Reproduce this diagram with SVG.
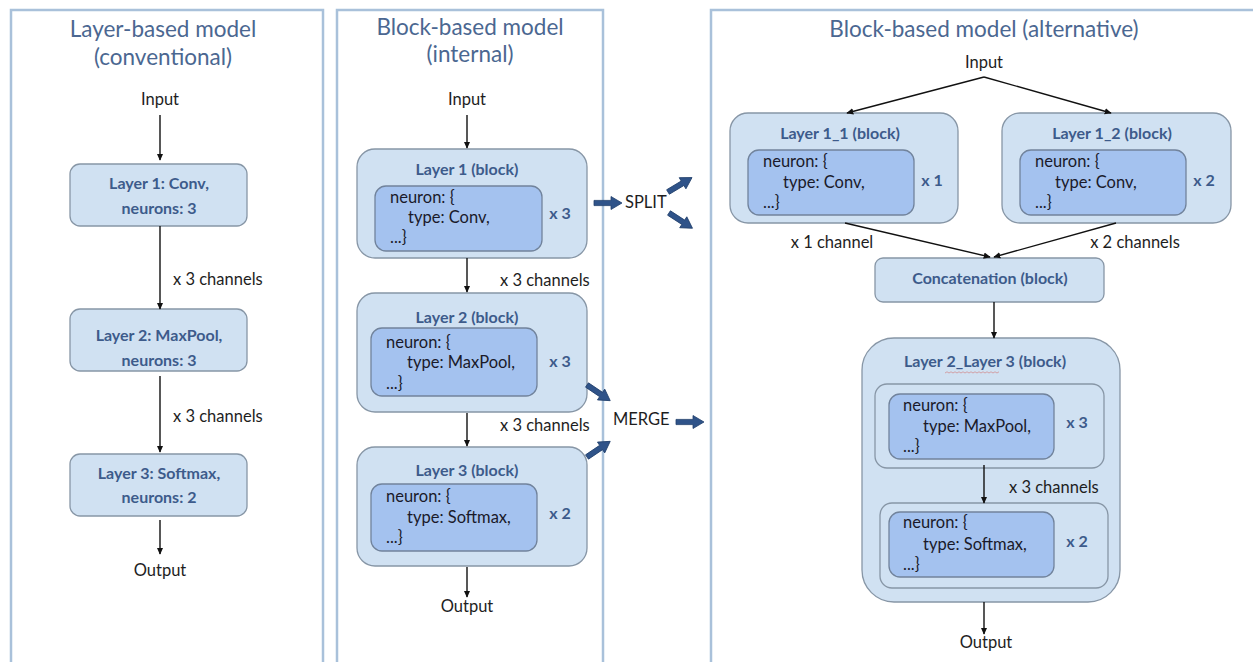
<svg xmlns="http://www.w3.org/2000/svg" width="1253" height="662" viewBox="0 0 1253 662">
  <style>
    text { font-family: Lato, "Open Sans", "Liberation Sans", sans-serif; }
    .panel { fill: #ffffff; stroke: #a9c1da; stroke-width: 2.5; }
    .title { font-size: 22.5px; fill: #4b6791; text-anchor: middle; }
    .lbl { font-size: 16.5px; fill: #1e1e1e; }
    .mid { text-anchor: middle; }
    .head { font-size: 16px; font-weight: bold; fill: #3d5b8b; text-anchor: middle; }
    .mult { font-size: 16px; font-weight: bold; fill: #3d5b8b; text-anchor: middle; }
    .code { font-size: 16.5px; fill: #1a1a2a; }
    .box { fill: #d0e1f2; stroke: #8796a6; stroke-width: 1.3; }
    .inner { fill: #a4c2ef; stroke: #71839c; stroke-width: 1.3; }
    .wire { fill: none; stroke: #111111; stroke-width: 1.4; marker-end: url(#tip); }
    .fat { fill: #2f5389; stroke: #22406c; stroke-width: 0.8; }
  </style>
  <defs>
    <marker id="tip" viewBox="0 0 10 10" refX="9" refY="5" markerWidth="7" markerHeight="7" orient="auto" markerUnits="userSpaceOnUse">
      <path d="M0,0.5 L10,5 L0,9.5 Z" fill="#111111"/>
    </marker>
    <!-- block arrow pointing along +x, 28 long -->
    <path id="fatArrow" class="fat" d="M0,-2.6 L17,-2.6 L17,-6.5 L28,0 L17,6.5 L17,2.6 L0,2.6 Z"/>
  </defs>

  <rect width="1253" height="662" fill="#ffffff"/>

  <!-- panels -->
  <g id="panel-layer">
    <rect class="panel" x="11" y="10" width="312" height="700"/>
    <text class="title" x="163" y="37">Layer-based model</text>
    <text class="title" x="163" y="65">(conventional)</text>
  </g>
  <g id="panel-internal">
    <rect class="panel" x="337" y="10" width="266" height="700"/>
    <text class="title" x="470" y="35">Block-based model</text>
    <text class="title" x="470" y="62">(internal)</text>
  </g>
  <g id="panel-alt">
    <rect class="panel" x="711" y="10" width="560" height="700"/>
    <text class="title" x="984" y="37">Block-based model (alternative)</text>
  </g>

  <!-- terminals -->
  <g id="io-layer">
    <text class="lbl mid" x="160" y="105">Input</text>
    <text class="lbl mid" x="160" y="576">Output</text>
  </g>
  <g id="io-internal">
    <text class="lbl mid" x="467" y="105">Input</text>
    <text class="lbl mid" x="467" y="612">Output</text>
  </g>
  <g id="io-alt">
    <text class="lbl mid" x="984" y="68">Input</text>
    <text class="lbl mid" x="986" y="648">Output</text>
  </g>

  <!-- layer-based nodes -->
  <g id="l-layer1">
    <rect class="box" x="70" y="164" width="177" height="62" rx="10"/>
    <text class="head" x="159" y="189">Layer 1: Conv,</text>
    <text class="head" x="159" y="214">neurons: 3</text>
  </g>
  <g id="l-layer2">
    <rect class="box" x="70" y="309" width="177" height="62" rx="10"/>
    <text class="head" x="159" y="341">Layer 2: MaxPool,</text>
    <text class="head" x="159" y="366">neurons: 3</text>
  </g>
  <g id="l-layer3">
    <rect class="box" x="70" y="454" width="177" height="62" rx="10"/>
    <text class="head" x="159" y="479">Layer 3: Softmax,</text>
    <text class="head" x="159" y="503">neurons: 2</text>
  </g>

  <!-- internal block nodes -->
  <g id="b-layer1">
    <rect class="box" x="357" y="149" width="230" height="109" rx="18"/>
    <text class="head" x="467" y="175">Layer 1 (block)</text>
    <rect class="inner" x="375" y="186" width="167" height="65" rx="11"/>
    <text class="code" x="390" y="203">neuron: {</text>
    <text class="code" x="408" y="223">type: Conv,</text>
    <text class="code" x="390" y="243">...}</text>
    <text class="mult" x="560" y="219">x 3</text>
  </g>
  <g id="b-layer2">
    <rect class="box" x="357" y="293" width="230" height="119" rx="18"/>
    <text class="head" x="467" y="323">Layer 2 (block)</text>
    <rect class="inner" x="371" y="328" width="166" height="68" rx="11"/>
    <text class="code" x="386" y="348">neuron: {</text>
    <text class="code" x="407" y="368">type: MaxPool,</text>
    <text class="code" x="386" y="389">...}</text>
    <text class="mult" x="560" y="367">x 3</text>
  </g>
  <g id="b-layer3">
    <rect class="box" x="357" y="447" width="230" height="119" rx="18"/>
    <text class="head" x="467" y="476">Layer 3 (block)</text>
    <rect class="inner" x="371" y="484" width="166" height="67" rx="11"/>
    <text class="code" x="386" y="502">neuron: {</text>
    <text class="code" x="407" y="523">type: Softmax,</text>
    <text class="code" x="386" y="543">...}</text>
    <text class="mult" x="560" y="519">x 2</text>
  </g>

  <!-- alternative block nodes -->
  <g id="a-layer1-1">
    <rect class="box" x="730" y="113" width="228" height="110" rx="18"/>
    <text class="head" x="840" y="139">Layer 1_1 (block)</text>
    <rect class="inner" x="748" y="150" width="166" height="65" rx="11"/>
    <text class="code" x="763" y="167">neuron: {</text>
    <text class="code" x="783" y="188">type: Conv,</text>
    <text class="code" x="763" y="208">...}</text>
    <text class="mult" x="932" y="186">x 1</text>
  </g>
  <g id="a-layer1-2">
    <rect class="box" x="1002" y="113" width="229" height="110" rx="18"/>
    <text class="head" x="1112" y="139">Layer 1_2 (block)</text>
    <rect class="inner" x="1020" y="150" width="166" height="65" rx="11"/>
    <text class="code" x="1035" y="167">neuron: {</text>
    <text class="code" x="1055" y="188">type: Conv,</text>
    <text class="code" x="1035" y="208">...}</text>
    <text class="mult" x="1204" y="186">x 2</text>
  </g>
  <g id="a-concat">
    <rect class="box" x="875" y="258" width="229" height="44" rx="8"/>
    <text class="head" x="990" y="284">Concatenation (block)</text>
  </g>
  <g id="a-layer2-3">
    <rect class="box" x="862" y="338" width="258" height="264" rx="32"/>
    <text class="head" x="985" y="367">Layer 2_Layer 3 (block)</text>
    <!-- spell-check squiggle under the second "Layer" -->
    <path d="M945,373 l2,-1.2 l2,1.2 l2,-1.2 l2,1.2 l2,-1.2 l2,1.2 l2,-1.2 l2,1.2 l2,-1.2 l2,1.2 l2,-1.2 l2,1.2 l2,-1.2 l2,1.2 l2,-1.2 l2,1.2 l2,-1.2 l2,1.2 l2,-1.2 l2,1.2 l2,-1.2 l2,1.2 l2,-1.2 l2,1.2 l2,-1.2 l2,1.2 l2,-1.2" fill="none" stroke="#d27a7a" stroke-width="0.8" opacity="0.8"/>
    <rect class="box" x="875" y="384" width="229" height="84" rx="12"/>
    <rect class="inner" x="889" y="394" width="165" height="65" rx="11"/>
    <text class="code" x="903" y="411">neuron: {</text>
    <text class="code" x="923" y="432">type: MaxPool,</text>
    <text class="code" x="903" y="452">...}</text>
    <text class="mult" x="1077" y="428">x 3</text>
    <rect class="box" x="880" y="503" width="228" height="85" rx="12"/>
    <rect class="inner" x="889" y="512" width="165" height="65" rx="11"/>
    <text class="code" x="903" y="528">neuron: {</text>
    <text class="code" x="923" y="550">type: Softmax,</text>
    <text class="code" x="903" y="570">...}</text>
    <text class="mult" x="1077" y="547">x 2</text>
  </g>

  <!-- connectors -->
  <g id="connectors">
    <!-- layer-based column -->
    <line class="wire" x1="160" y1="115" x2="160" y2="160"/>
    <line class="wire" x1="160" y1="226" x2="160" y2="309"/>
    <line class="wire" x1="160" y1="376" x2="160" y2="452"/>
    <line class="wire" x1="160" y1="520" x2="160" y2="554"/>
    <!-- internal block column -->
    <line class="wire" x1="467" y1="115" x2="467" y2="148"/>
    <line class="wire" x1="467" y1="258" x2="467" y2="292"/>
    <line class="wire" x1="467" y1="413" x2="467" y2="446"/>
    <line class="wire" x1="467" y1="567" x2="467" y2="597"/>
    <!-- alternative column -->
    <line class="wire" x1="984" y1="77" x2="847" y2="113"/>
    <line class="wire" x1="984" y1="77" x2="1111" y2="113"/>
    <line class="wire" x1="845" y1="223" x2="990" y2="257"/>
    <line class="wire" x1="1116" y1="223" x2="994" y2="257"/>
    <line class="wire" x1="994" y1="302" x2="994" y2="338"/>
    <line class="wire" x1="984" y1="465" x2="984" y2="503"/>
    <line class="wire" x1="984" y1="602" x2="984" y2="634"/>
    <!-- split / merge block arrows -->
    <use href="#fatArrow" transform="translate(594,203)"/>
    <use href="#fatArrow" transform="translate(668,192) rotate(-31)"/>
    <use href="#fatArrow" transform="translate(669,213) rotate(33)"/>
    <use href="#fatArrow" transform="translate(587,385) rotate(34)"/>
    <use href="#fatArrow" transform="translate(587,457) rotate(-34)"/>
    <use href="#fatArrow" transform="translate(676,422)"/>
  </g>

  <!-- connector labels -->
  <g id="edge-labels">
    <text class="lbl" x="173" y="285">x 3 channels</text>
    <text class="lbl" x="173" y="422">x 3 channels</text>
    <text class="lbl" x="500" y="286">x 3 channels</text>
    <text class="lbl" x="500" y="431">x 3 channels</text>
    <text class="lbl" x="625" y="208">SPLIT</text>
    <text class="lbl" x="613" y="425">MERGE</text>
    <text class="lbl mid" x="832" y="248">x 1 channel</text>
    <text class="lbl mid" x="1135" y="248">x 2 channels</text>
    <text class="lbl" x="1009" y="493">x 3 channels</text>
  </g>
</svg>
